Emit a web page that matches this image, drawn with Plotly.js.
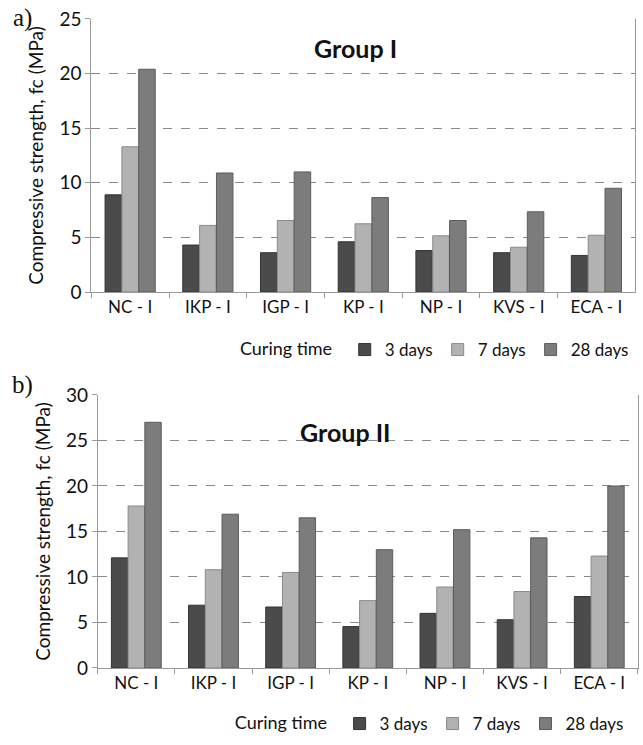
<!DOCTYPE html>
<html>
<head>
<meta charset="utf-8">
<script src="https://cdn.plot.ly/plotly-3.0.1.min.js"></script>
<style>
html,body{margin:0;padding:0;background:#fff;}
#chart{width:643px;height:745px;}
</style>
</head>
<body>
<div id="chart"></div>
<script>
const categories = ["NC - I", "IKP - I", "IGP - I", "KP - I", "NP - I", "KVS - I", "ECA - I"];
const seriesNames = ["3 days", "7 days", "28 days"];

const groupI_3d  = [8.9, 4.3, 3.6, 4.6, 3.8, 3.6, 3.35];
const groupI_7d  = [13.3, 6.1, 6.55, 6.25, 5.15, 4.1, 5.2];
const groupI_28d = [20.4, 10.9, 11.0, 8.65, 6.55, 7.35, 9.5];

const groupII_3d  = [12.1, 6.9, 6.7, 4.55, 6.0, 5.3, 7.85];
const groupII_7d  = [17.8, 10.8, 10.5, 7.4, 8.9, 8.4, 12.3];
const groupII_28d = [27.0, 16.9, 16.5, 13.0, 15.2, 14.3, 20.0];

const colors = ["#4b4b4b", "#b2b2b2", "#7c7c7c"];
const edge = ["#333333", "#8a8a8a", "#5c5c5c"];

const FONT = "Lato, 'Open Sans', sans-serif";

function mk(vals, i, xa, ya, leg) {
  return {
    type: "bar", x: categories, y: vals, name: seriesNames[i],
    xaxis: xa, yaxis: ya, legend: leg,
    marker: {color: colors[i], line: {color: edge[i], width: 1}},
    hoverinfo: "y"
  };
}

const data = [
  mk(groupI_3d, 0, "x", "y", "legend"),
  mk(groupI_7d, 1, "x", "y", "legend"),
  mk(groupI_28d, 2, "x", "y", "legend"),
  mk(groupII_3d, 0, "x2", "y2", "legend2"),
  mk(groupII_7d, 1, "x2", "y2", "legend2"),
  mk(groupII_28d, 2, "x2", "y2", "legend2")
];

const xCommon = {
  type: "category", tickson: "boundaries", ticks: "outside", ticklen: 5,
  tickcolor: "#999", showline: true, linecolor: "#999", linewidth: 1,
  showgrid: false, tickfont: {family: FONT, size: 17, color: "#111"}, fixedrange: true
};
const yCommon = {
  showline: true, linecolor: "#999", linewidth: 1, mirror: true,
  ticks: "outside", ticklen: 5, tickcolor: "#999",
  gridcolor: "#8a8a8a", griddash: "dash", gridwidth: 1,
  zeroline: false, tickfont: {family: FONT, size: 19, color: "#111"}, fixedrange: true
};

const legCommon = {
  orientation: "h", xanchor: "left", yanchor: "middle",
  font: {family: FONT, size: 17, color: "#111"},
  title: {text: "Curing time ", side: "left", font: {family: FONT, size: 18, color: "#111"}},
  itemwidth: 30, tracegroupgap: 0, bgcolor: "rgba(0,0,0,0)"
};

const layout = {
  width: 643, height: 745,
  margin: {l: 0, r: 0, t: 0, b: 0},
  paper_bgcolor: "#fff", plot_bgcolor: "#fff",
  barmode: "group", bargap: 0.35, bargroupgap: 0.02,
  xaxis: Object.assign({}, xCommon, {domain: [0.142, 0.988], anchor: "y"}),
  yaxis: Object.assign({}, yCommon, {domain: [0.608, 0.9745], range: [0, 25], dtick: 5, anchor: "x",
    title: {text: "Compressive strength, fc (MPa)", standoff: 10, font: {family: FONT, size: 19, color: "#111"}}}),
  xaxis2: Object.assign({}, xCommon, {domain: [0.152, 0.992], anchor: "y2"}),
  yaxis2: Object.assign({}, yCommon, {domain: [0.1034, 0.4698], range: [0, 30], dtick: 5, anchor: "x2",
    title: {text: "Compressive strength, fc (MPa)", standoff: 10, font: {family: FONT, size: 19, color: "#111"}}}),
  legend: Object.assign({}, legCommon, {x: 0.37, y: 1 - 350/745}),
  legend2: Object.assign({}, legCommon, {x: 0.362, y: 1 - 724/745}),
  annotations: [
    {text: "<b>Group I</b>", xref: "paper", yref: "paper", x: 355/643, y: 1 - 48/745,
     yanchor: "middle", xanchor: "center",
     showarrow: false, font: {family: FONT, size: 25, color: "#111"}},
    {text: "<b>Group II</b>", xref: "paper", yref: "paper", x: 346/643, y: 1 - 432/745,
     yanchor: "middle", xanchor: "center",
     showarrow: false, font: {family: FONT, size: 25, color: "#111"}},
    {text: "a)", xref: "paper", yref: "paper", x: 22/643, y: 1 - 18/745,
     yanchor: "middle", xanchor: "center",
     showarrow: false, font: {family: "'Liberation Serif', 'DejaVu Serif', serif", size: 25, color: "#111"}},
    {text: "b)", xref: "paper", yref: "paper", x: 22/643, y: 1 - 385/745,
     yanchor: "middle", xanchor: "center",
     showarrow: false, font: {family: "'Liberation Serif', 'DejaVu Serif', serif", size: 25, color: "#111"}}
  ],
  showlegend: true
};

Plotly.newPlot("chart", data, layout, {displayModeBar: false, staticPlot: true});
</script>
</body>
</html>
